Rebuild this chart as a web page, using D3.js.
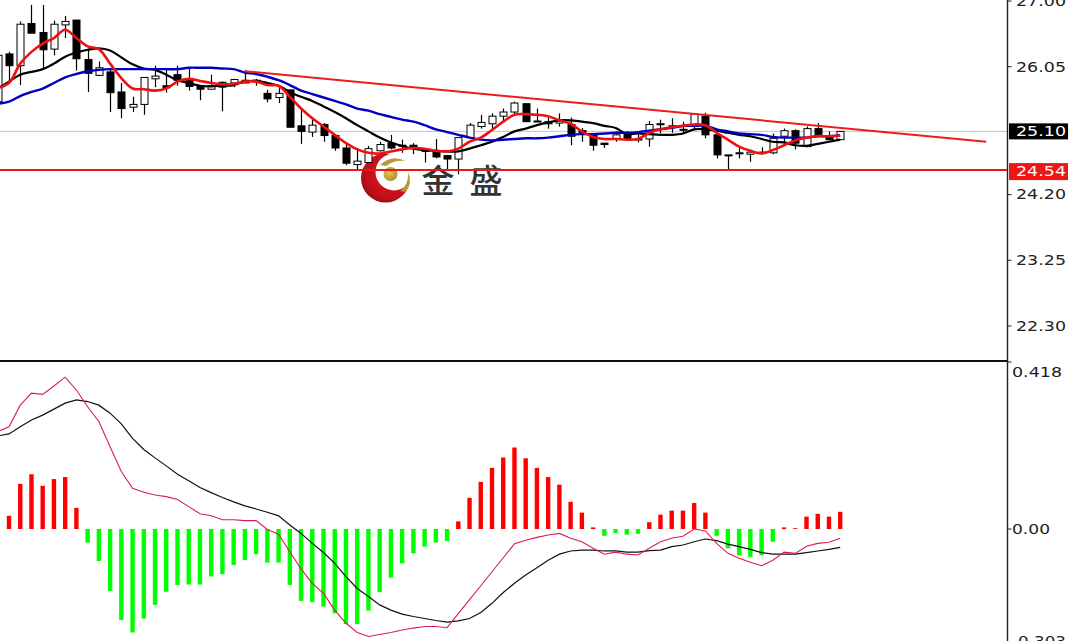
<!DOCTYPE html>
<html lang="zh">
<head>
<meta charset="utf-8">
<script src="https://cdn.jsdelivr.net/npm/d3@7/dist/d3.min.js"></script>
<style>
html,body{margin:0;padding:0;background:#fff;overflow:hidden}
svg{display:block}
</style>
</head>
<body>
<svg id="c" width="1068" height="641"></svg>
<script>
// Data. Bars run from index -1 (cut by the left edge) to 74.
const firstIndex = -1;
const opens = [25.53,26.22,26.05,26.66,26.53,26.29,26.64,26.71,26.14,25.91,25.96,25.67,25.45,25.49,25.86,25.76,25.92,25.85,25.76,25.71,25.81,25.80,25.84,25.84,25.65,25.59,25.70,25.18,25.09,25.20,25.04,24.86,24.62,24.65,24.82,24.93,24.90,24.90,24.84,24.82,24.75,24.70,25.01,25.17,25.21,25.32,25.38,25.50,25.25,25.24,25.22,25.20,25.11,25.04,24.93,24.99,25.08,24.99,24.99,25.21,25.18,25.13,25.19,25.32,25.05,24.76,24.79,24.77,24.80,24.79,25.03,25.11,24.88,25.14,25.02,24.98];
const highs = [26.20,26.25,26.69,26.93,26.93,26.70,26.77,26.71,26.30,26.11,26.01,25.80,25.60,25.88,26.05,25.99,26.05,26.01,25.77,25.92,25.82,25.86,25.99,25.86,25.70,25.74,25.70,25.43,25.28,25.22,25.05,24.93,24.86,24.89,24.95,25.05,24.98,24.93,24.86,24.99,24.76,25.01,25.22,25.34,25.36,25.43,25.53,25.50,25.43,25.30,25.36,25.30,25.15,25.05,24.93,25.10,25.10,25.08,25.25,25.27,25.29,25.24,25.36,25.37,25.05,24.76,24.86,24.80,24.87,25.07,25.14,25.13,25.17,25.22,25.10,25.10];
const lows = [25.53,25.80,25.77,26.52,26.01,26.20,26.45,25.98,25.67,25.90,25.38,25.29,25.38,25.34,25.74,25.66,25.76,25.69,25.55,25.71,25.39,25.74,25.80,25.76,25.52,25.51,25.16,24.92,25.02,24.95,24.82,24.61,24.55,24.65,24.81,24.84,24.79,24.77,24.65,24.71,24.54,24.48,25.01,25.14,25.12,25.24,25.34,25.24,25.24,25.14,25.17,24.90,24.95,24.82,24.86,24.95,24.97,24.94,24.88,25.07,25.08,25.08,25.12,25.00,24.71,24.55,24.71,24.66,24.79,24.77,24.90,24.84,24.87,25.02,24.97,24.98];
const closes = [26.20,26.05,26.65,26.52,26.28,26.65,26.69,26.15,25.94,26.02,25.66,25.43,25.49,25.88,25.90,25.73,25.84,25.75,25.71,25.76,25.74,25.85,25.80,25.83,25.57,25.65,25.16,25.10,25.19,25.04,24.86,24.64,24.67,24.85,24.91,24.86,24.89,24.86,24.81,24.73,24.70,25.01,25.19,25.23,25.32,25.38,25.51,25.24,25.24,25.21,25.25,25.03,25.08,24.90,24.91,25.05,24.99,24.98,25.20,25.20,25.17,25.13,25.35,25.05,24.76,24.75,24.78,24.80,24.79,25.00,25.11,24.93,25.14,25.05,24.98,25.10];

const maFast = [25.73,25.80,26.08,26.25,26.37,26.45,26.57,26.45,26.33,26.29,26.08,25.87,25.72,25.71,25.69,25.72,25.82,25.86,25.83,25.80,25.78,25.79,25.82,25.82,25.77,25.76,25.60,25.43,25.29,25.17,25.05,24.93,24.84,24.79,24.78,24.81,24.84,24.86,24.85,24.82,24.81,24.85,24.95,25.01,25.12,25.24,25.34,25.35,25.34,25.32,25.26,25.21,25.10,25.02,24.99,24.99,24.98,24.99,25.08,25.13,25.16,25.18,25.20,25.19,25.08,24.98,24.88,24.82,24.78,24.83,24.90,24.97,25.01,25.03,25.03,25.04];
const maMid = [25.72,25.82,25.92,25.96,26.00,26.08,26.18,26.24,26.28,26.30,26.27,26.17,26.07,26.01,25.99,25.92,25.84,25.80,25.76,25.75,25.76,25.77,25.82,25.83,25.80,25.76,25.67,25.60,25.54,25.46,25.38,25.29,25.19,25.10,25.01,24.94,24.89,24.85,24.83,24.82,24.81,24.81,24.85,24.90,24.95,25.02,25.10,25.14,25.19,25.23,25.26,25.26,25.24,25.22,25.18,25.15,25.06,25.07,25.06,25.05,25.05,25.07,25.13,25.13,25.11,25.08,25.05,25.03,24.99,24.95,24.94,24.90,24.89,24.92,24.95,24.98];
const maSlow = [25.50,25.53,25.61,25.67,25.72,25.80,25.88,25.93,25.97,25.99,26.00,26.00,26.00,26.00,26.00,26.00,26.00,26.02,26.02,26.02,26.01,26.00,25.95,25.93,25.89,25.84,25.77,25.69,25.64,25.59,25.54,25.49,25.43,25.40,25.35,25.31,25.27,25.24,25.19,25.13,25.09,25.05,25.01,24.98,24.97,24.98,24.99,25.00,25.00,25.01,25.03,25.05,25.06,25.06,25.07,25.08,25.08,25.09,25.11,25.13,25.15,25.18,25.18,25.18,25.13,25.10,25.07,25.06,25.05,25.02,25.01,25.01,25.01,25.03,25.03,25.04];

const macdHist = [0.000,0.033,0.113,0.137,0.108,0.125,0.130,0.053,-0.034,-0.080,-0.155,-0.228,-0.259,-0.224,-0.190,-0.157,-0.140,-0.139,-0.139,-0.119,-0.113,-0.090,-0.078,-0.063,-0.084,-0.084,-0.140,-0.180,-0.183,-0.194,-0.211,-0.238,-0.238,-0.204,-0.158,-0.122,-0.086,-0.061,-0.044,-0.034,-0.030,0.019,0.078,0.118,0.153,0.179,0.204,0.177,0.153,0.130,0.111,0.068,0.041,0.004,-0.017,-0.010,-0.014,-0.012,0.017,0.036,0.046,0.046,0.065,0.041,-0.017,-0.048,-0.066,-0.070,-0.066,-0.032,0.004,0.002,0.031,0.038,0.031,0.043];
const macdLine = [0.244,0.256,0.310,0.340,0.337,0.358,0.380,0.348,0.306,0.269,0.206,0.144,0.102,0.092,0.085,0.081,0.074,0.056,0.038,0.033,0.023,0.023,0.021,0.021,-0.001,-0.013,-0.057,-0.100,-0.136,-0.161,-0.203,-0.236,-0.259,-0.269,-0.264,-0.259,-0.253,-0.248,-0.244,-0.244,-0.247,-0.212,-0.177,-0.142,-0.107,-0.072,-0.037,-0.028,-0.021,-0.015,-0.011,-0.023,-0.032,-0.048,-0.063,-0.058,-0.063,-0.065,-0.048,-0.032,-0.023,-0.018,0.000,-0.005,-0.036,-0.061,-0.073,-0.083,-0.092,-0.078,-0.058,-0.061,-0.043,-0.036,-0.033,-0.023];
const macdSignal = [0.233,0.238,0.256,0.273,0.285,0.300,0.315,0.323,0.319,0.310,0.290,0.263,0.227,0.199,0.178,0.158,0.137,0.121,0.104,0.091,0.079,0.068,0.058,0.050,0.042,0.033,0.010,-0.011,-0.036,-0.059,-0.086,-0.119,-0.149,-0.169,-0.190,-0.203,-0.213,-0.219,-0.224,-0.229,-0.233,-0.230,-0.224,-0.209,-0.186,-0.159,-0.136,-0.115,-0.097,-0.078,-0.063,-0.055,-0.053,-0.053,-0.055,-0.055,-0.058,-0.058,-0.054,-0.053,-0.044,-0.040,-0.032,-0.025,-0.029,-0.038,-0.044,-0.051,-0.059,-0.063,-0.063,-0.063,-0.059,-0.055,-0.051,-0.046];

const priceTicks = [27.00,26.05,24.20,23.25,22.30];
const priceLabels = ["27.00","26.05","24.20","23.25","22.30"];
const lastPrice = 25.10;
const supportPrice = 24.54;
const trendIndex = [21,87];
const trendPrice = [25.97,24.95];
const macdTicks = [0.418,0,-0.303];
const macdLabels = ["0.418","0.00","-0.303"];
const logoText = ["金","盛"];

// Scales
const n = closes.length;
const idx = d3.range(n).map(i => i + firstIndex);
const xScale = d3.scaleLinear().domain([0,74]).range([9,840.2]);
const yPrice = d3.scaleLinear().domain([27,22.30]).range([0,325]);
const yMacd = d3.scaleLinear().domain([0,0.418]).range([529,362]);
const axisX = 1007.5;

const svg = d3.select("#c");
const defs = svg.append("defs");
defs.append("clipPath").attr("id","clipTop").append("rect").attr("width",axisX).attr("height",360);
defs.append("clipPath").attr("id","clipBot").append("rect").attr("y",362).attr("width",axisX).attr("height",280);
const rg = defs.append("radialGradient").attr("id","cres").attr("cx","0.6").attr("cy","0.4").attr("r","0.75");
rg.append("stop").attr("offset","0").attr("stop-color","#e2141c");
rg.append("stop").attr("offset","0.65").attr("stop-color","#c4101a");
rg.append("stop").attr("offset","1").attr("stop-color","#7e0a12");
const gg = defs.append("radialGradient").attr("id","gold").attr("cx","0.4").attr("cy","0.4").attr("r","0.7");
gg.append("stop").attr("offset","0").attr("stop-color","#e2c65a");
gg.append("stop").attr("offset","1").attr("stop-color","#a98a22");
const cm = defs.append("mask").attr("id","cresMask").attr("maskUnits","userSpaceOnUse")
  .attr("x",340).attr("y",140).attr("width",100).attr("height",80);
cm.append("rect").attr("x",340).attr("y",140).attr("width",100).attr("height",80).attr("fill","#fff");
cm.append("circle").attr("cx",394).attr("cy",172).attr("r",18.5).attr("fill","#000");

// Logo sits behind the chart lines
const logo = svg.append("g");
logo.append("circle").attr("cx",385.5).attr("cy",178).attr("r",24.5).attr("fill","url(#cres)").attr("mask","url(#cresMask)");
logo.append("circle").attr("cx",390.5).attr("cy",174).attr("r",7).attr("fill","url(#gold)");
logo.append("path").attr("d","M380 165 Q392 154 405 161 Q394 160 386 166 Z").attr("fill","#b39a3a");
logo.append("path").attr("d","M400 191 Q409 185 408 172 Q413 184 405 192 Z").attr("fill","#b39a3a");
logo.selectAll("text").data(logoText).join("text")
  .attr("x",(d,i)=> i===0 ? 438 : 486).attr("y",193)
  .attr("text-anchor","middle").attr("font-family","'Noto Sans CJK SC'")
  .attr("font-size",33).attr("font-weight",500).attr("fill","#333").text(d=>d);

// Price pane
const pricePane = svg.append("g").attr("clip-path","url(#clipTop)");
pricePane.append("line").attr("x1",0).attr("x2",axisX).attr("y1",yPrice(lastPrice)).attr("y2",yPrice(lastPrice))
  .attr("stroke","#c4c4c4").attr("stroke-width",1);

const candles = pricePane.selectAll("g.k").data(idx).join("g").attr("class","k");
candles.append("line")
  .attr("x1",d=>Math.round(xScale(d))+0.5).attr("x2",d=>Math.round(xScale(d))+0.5)
  .attr("y1",(d,i)=>yPrice(highs[i])).attr("y2",(d,i)=>yPrice(lows[i]))
  .attr("stroke","#000").attr("stroke-width",1.2);
candles.append("rect")
  .attr("x",d=>Math.round(xScale(d))-3).attr("width",7)
  .attr("y",(d,i)=>yPrice(Math.max(opens[i],closes[i])))
  .attr("height",(d,i)=>Math.max(1,Math.abs(yPrice(opens[i])-yPrice(closes[i]))))
  .attr("fill",(d,i)=>closes[i]>=opens[i]?"#fff":"#000")
  .attr("stroke","#000").attr("stroke-width",1);

const priceLine = d3.line().x((d,i)=>xScale(idx[i])).y(d=>yPrice(d)).curve(d3.curveCatmullRom.alpha(0.5));
pricePane.append("path").attr("d",priceLine(maMid)).attr("fill","none").attr("stroke","#000").attr("stroke-width",2.2);
pricePane.append("path").attr("d",priceLine(maSlow)).attr("fill","none").attr("stroke","#0000c0").attr("stroke-width",2.4);
pricePane.append("path").attr("d",priceLine(maFast)).attr("fill","none").attr("stroke","#f01010").attr("stroke-width",2.6);

pricePane.append("line").attr("x1",xScale(trendIndex[0])).attr("x2",xScale(trendIndex[1]))
  .attr("y1",yPrice(trendPrice[0])).attr("y2",yPrice(trendPrice[1]))
  .attr("stroke","#ee1c1c").attr("stroke-width",2);
pricePane.append("line").attr("x1",0).attr("x2",axisX).attr("y1",yPrice(supportPrice)).attr("y2",yPrice(supportPrice))
  .attr("stroke","#e81818").attr("stroke-width",2);

// MACD pane
const macdPane = svg.append("g").attr("clip-path","url(#clipBot)");
macdPane.selectAll("rect").data(idx).join("rect")
  .attr("x",d=>xScale(d)-2.2).attr("width",4.4)
  .attr("y",(d,i)=>Math.min(yMacd(macdHist[i]),yMacd(0)))
  .attr("height",(d,i)=>Math.abs(yMacd(macdHist[i])-yMacd(0)))
  .attr("fill",(d,i)=>macdHist[i]>=0?"#ff0000":"#00ff00");
const macdPath = d3.line().x((d,i)=>xScale(idx[i])).y(d=>yMacd(d));
macdPane.append("path").attr("d",macdPath(macdSignal)).attr("fill","none").attr("stroke","#111").attr("stroke-width",1.2);
macdPane.append("path").attr("d",macdPath(macdLine)).attr("fill","none").attr("stroke","#d6204e").attr("stroke-width",1.1);

// Frame
svg.append("line").attr("x1",axisX).attr("x2",axisX).attr("y1",0).attr("y2",641).attr("stroke","#222").attr("stroke-width",1.4);
svg.append("line").attr("x1",0).attr("x2",axisX).attr("y1",361).attr("y2",361).attr("stroke","#111").attr("stroke-width",2);

function axisLabel(str,xStart,yMid,w,fill){
  svg.append("text").attr("x",xStart).attr("y",yMid).attr("dy","0.36em")
    .attr("font-family","'DejaVu Sans'").attr("font-size",13.5).attr("fill",fill)
    .attr("textLength",w).attr("lengthAdjust","spacingAndGlyphs").text(str);
}

// Axes
priceTicks.forEach((t,i)=>{
  svg.append("line").attr("x1",axisX).attr("x2",axisX+4).attr("y1",yPrice(t)+1).attr("y2",yPrice(t)+1).attr("stroke","#222");
  axisLabel(priceLabels[i],1016,yPrice(t)+1,50,"#222");
});
macdTicks.forEach(t=>{
  svg.append("line").attr("x1",axisX).attr("x2",axisX+4).attr("y1",yMacd(t)).attr("y2",yMacd(t)).attr("stroke","#222");
});
axisLabel(macdLabels[0],1012,yMacd(macdTicks[0])+10,50,"#222");
axisLabel(macdLabels[1],1012,yMacd(macdTicks[1])+0.5,38,"#222");
axisLabel(macdLabels[2],1012,yMacd(macdTicks[2])-9,54,"#222");

// Price tags
svg.append("rect").attr("x",1009).attr("y",yPrice(lastPrice)-8).attr("width",59).attr("height",16).attr("fill","#000");
axisLabel(lastPrice.toFixed(2),1016,yPrice(lastPrice),50,"#fff");
svg.append("rect").attr("x",1009).attr("y",yPrice(supportPrice)-7).attr("width",59).attr("height",17).attr("fill","#f01414");
axisLabel(supportPrice.toFixed(2),1016,yPrice(supportPrice)+1.5,50,"#fff");
</script>
</body>
</html>
